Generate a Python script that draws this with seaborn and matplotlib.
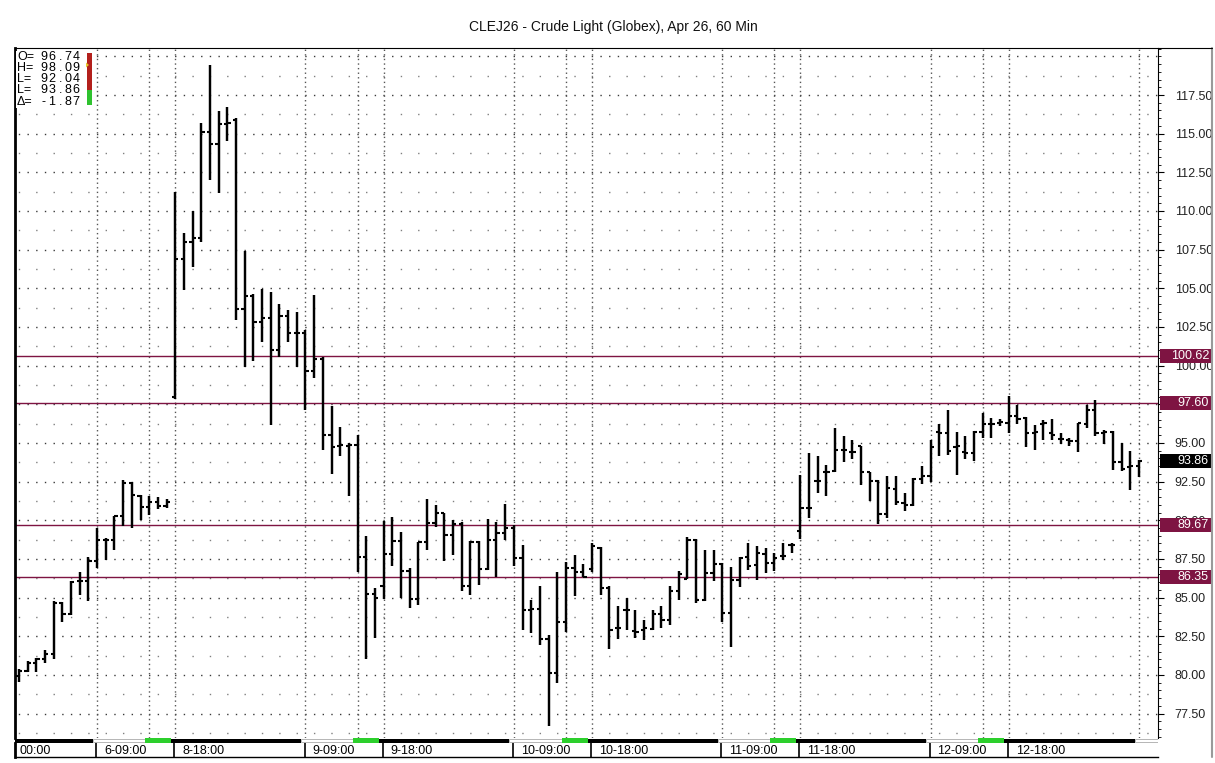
import numpy as np
import pandas as pd
import matplotlib
matplotlib.use("Agg")
import matplotlib.pyplot as plt
import seaborn as sns
from matplotlib.transforms import blended_transform_factory
from matplotlib.patches import Rectangle
from matplotlib.lines import Line2D
from matplotlib.ticker import MultipleLocator, FuncFormatter

sns.set_theme(style="white")
plt.rcParams["font.family"] = ["Liberation Sans", "DejaVu Sans"]

# ---------------- data ----------------
title = "CLEJ26 - Crude Light (Globex), Apr 26, 60 Min"

opens = [79.95, 80.24, 80.77, 81.03, 81.36, 84.65, 83.94, 86.05, 86.05, 87.35,
         88.70, 88.74, 90.25, 92.41, 91.54, 90.83, 91.15, 90.95, 97.94, 106.90,
         108.02, 108.28, 115.09, 114.31, 115.60, 115.90, 103.67, 104.53, 102.85, 103.07,
         101.02, 103.24, 102.14, 102.14, 99.67, 100.44, 95.53, 94.83, 94.83, 94.88,
         87.60, 85.23, 85.77, 87.84, 88.64, 86.74, 84.91, 88.57, 89.82, 90.47,
         89.07, 89.76, 85.77, 88.57, 86.85, 88.74, 89.17, 89.50, 87.56, 84.22,
         84.26, 82.35, 80.13, 83.40, 86.91, 86.63, 86.85, 88.20, 85.62, 83.04,
         84.22, 82.82, 82.88, 82.97, 83.96, 83.53, 85.40, 86.23, 88.74, 84.87,
         86.59, 87.17, 84.00, 86.16, 87.60, 87.08, 87.84, 87.24, 87.69, 88.38,
         89.28, 90.79, 92.51, 93.10, 93.16, 94.56, 94.39, 94.78, 93.10, 92.56,
         90.40, 92.02, 91.11, 91.01, 92.66, 92.88, 95.74, 95.64, 94.73, 94.39,
         94.34, 95.74, 96.22, 96.28, 96.28, 96.76, 96.60, 95.64, 96.22, 95.64,
         95.25, 95.16, 95.10, 96.24, 97.14, 95.64, 95.68, 93.74, 93.44, 93.48]
highs = [80.39, 80.88, 81.10, 81.64, 84.80, 84.70, 86.05, 86.63, 87.60, 89.50,
         88.85, 90.30, 92.58, 92.45, 91.65, 91.55, 91.50, 91.35, 111.25, 108.56,
         110.00, 115.67, 119.44, 116.47, 116.75, 116.00, 107.44, 104.60, 104.94, 104.75,
         103.97, 103.61, 103.46, 102.30, 104.58, 100.55, 97.36, 96.00, 95.00, 95.53,
         88.96, 85.62, 89.97, 90.21, 89.24, 86.91, 88.59, 91.39, 91.00, 90.50,
         89.99, 89.89, 88.64, 88.65, 90.08, 89.89, 91.05, 89.70, 88.42, 84.87,
         85.73, 82.60, 86.63, 87.28, 87.77, 87.19, 88.53, 88.25, 85.73, 84.48,
         84.97, 84.22, 83.57, 84.22, 84.48, 85.73, 86.70, 88.92, 88.80, 88.05,
         88.05, 87.25, 86.96, 87.60, 88.53, 88.31, 88.20, 87.88, 88.53, 88.53,
         92.94, 94.34, 94.13, 93.59, 95.96, 95.42, 95.20, 94.82, 93.15, 92.60,
         92.84, 92.88, 91.76, 92.73, 93.53, 95.16, 96.24, 97.14, 95.74, 95.42,
         95.80, 96.93, 96.60, 96.54, 98.05, 97.45, 96.65, 96.17, 96.46, 96.54,
         95.64, 95.31, 96.32, 97.47, 97.79, 95.85, 95.80, 94.99, 94.45, 93.90]
lows = [79.52, 80.17, 80.17, 80.78, 81.03, 83.40, 83.90, 85.19, 84.76, 86.91,
        87.41, 88.10, 89.61, 89.50, 90.04, 90.35, 90.70, 90.80, 97.85, 104.90,
        106.36, 108.02, 112.01, 111.15, 114.55, 102.96, 99.94, 100.31, 101.52, 96.17,
        100.59, 101.50, 99.90, 97.14, 99.23, 94.56, 92.99, 94.13, 91.55, 86.63,
        81.05, 82.39, 84.91, 87.02, 84.98, 84.33, 84.54, 88.06, 89.54, 87.34,
        87.77, 85.40, 85.17, 85.84, 86.80, 86.33, 88.70, 87.02, 82.93, 82.71,
        81.96, 76.68, 79.48, 82.76, 85.08, 86.33, 86.63, 85.19, 81.68, 82.35,
        82.88, 82.39, 82.24, 82.88, 83.04, 83.25, 84.87, 86.20, 84.65, 84.80,
        86.09, 83.40, 81.81, 85.66, 86.80, 86.16, 86.59, 86.70, 87.45, 87.88,
        88.80, 90.14, 91.76, 91.59, 93.10, 93.76, 93.96, 92.30, 91.22, 89.78,
        90.14, 91.01, 90.57, 90.94, 92.34, 92.45, 94.13, 94.24, 92.90, 93.96,
        93.85, 95.31, 95.31, 96.11, 95.64, 96.25, 94.73, 94.56, 95.16, 95.16,
        94.95, 94.78, 94.41, 95.96, 95.42, 94.93, 93.27, 93.16, 91.97, 92.79]
closes = [80.25, 80.77, 81.00, 81.36, 84.65, 83.94, 86.01, 86.05, 87.35, 88.70,
          88.74, 90.25, 92.41, 91.61, 90.83, 91.15, 90.95, 91.15, 106.90, 108.02,
          108.28, 115.09, 114.31, 115.60, 115.67, 103.67, 104.53, 102.85, 103.07, 101.02,
          103.24, 102.14, 102.14, 99.67, 100.44, 95.53, 94.77, 94.88, 94.88, 87.60,
          85.23, 84.97, 87.84, 88.64, 86.74, 84.91, 88.57, 89.82, 90.47, 89.07,
          89.76, 85.77, 88.57, 86.85, 88.74, 89.17, 89.50, 87.56, 84.22, 84.26,
          82.35, 80.13, 83.40, 86.91, 86.65, 86.33, 88.31, 85.62, 82.93, 83.04,
          84.18, 82.76, 83.04, 83.96, 83.53, 85.40, 86.55, 88.74, 84.87, 86.59,
          87.17, 84.00, 86.16, 87.56, 87.02, 87.88, 87.24, 87.56, 87.69, 88.38,
          90.79, 90.79, 92.51, 93.10, 94.52, 94.52, 94.39, 93.10, 92.56, 90.40,
          92.08, 91.16, 91.01, 92.69, 92.88, 94.73, 95.64, 94.50, 94.82, 94.34,
          95.74, 96.22, 96.22, 96.33, 96.76, 96.55, 95.64, 95.68, 96.28, 95.53,
          95.25, 95.10, 96.28, 97.14, 95.64, 95.68, 93.74, 93.31, 93.53, 93.86]

levels = [100.62, 97.60, 89.67, 86.35]
last_price = 93.86

session_open, session_high, session_low, session_last, session_delta = 96.74, 98.09, 92.04, 93.86, -1.87

time_labels = ["00:00", "6-09:00", "8-18:00", "9-09:00", "9-18:00", "10-09:00",
               "10-18:00", "11-09:00", "11-18:00", "12-09:00", "12-18:00"]
time_label_bars = [0, 9, 18, 33, 42, 57, 66, 81, 90, 105, 114]
vgrid_bars = [9, 15, 18, 33, 39, 42, 57, 63, 66, 81, 87, 90, 105, 111, 114, 129]
session_bounds = [-0.5, 8.5, 14.5, 17.5, 32.5, 38.5, 41.5, 56.5, 62.5, 65.5,
                  80.5, 86.5, 89.5, 104.5, 110.5, 113.5, 128.5, 131.5]
session_kinds = ["night", "day", "close", "night", "day", "close", "night", "day", "close",
                 "night", "day", "close", "night", "day", "close", "night", "day"]

# ---------------- layout ----------------
W, H = 1215, 763
fig = plt.figure(figsize=(W / 100, H / 100), dpi=100)
fig.patch.set_facecolor("white")

PL, PR, PT, PB = 15, 1158, 48, 738
XMIN, XMAX = -0.46, 131.2
YMIN, YMAX = 75.92, 120.54
ax = fig.add_axes([PL / W, 1 - PB / H, (PR - PL) / W, (PB - PT) / H])
ax.set_facecolor("white")
ax.set_xlim(XMIN, XMAX)
ax.set_ylim(YMIN, YMAX)

# grid dots
for yv in np.arange(77.5, 120.1, 2.5):
    ax.axhline(yv, color="#3a3a3a", lw=1.0, ls=(3.875, (1, 5.25)), zorder=0)
for yv in np.arange(76.25, 120.1, 2.5):
    ax.axhline(yv, color="#808080", lw=1.0, ls=(10.125, (1, 11.5)), zorder=0)
for b in vgrid_bars:
    ax.axvline(b, color="#555555", lw=1.0, ls=(0, (1, 2.3)), zorder=0)

maroon = "#7e1442"
for lv in levels:
    ax.axhline(lv, color=maroon, lw=1.0, zorder=1)

# OHLC via seaborn
n = len(opens)
idx = np.arange(n)
hl = pd.DataFrame({"seg": np.repeat(idx, 2),
                   "x": np.repeat(idx, 2).astype(float),
                   "price": np.column_stack([lows, highs]).ravel()})
tk = 0.37
ot = pd.DataFrame({"seg": np.repeat(idx, 2) + n,
                   "x": np.column_stack([idx - tk, idx]).ravel(),
                   "price": np.repeat(opens, 2)})
ct = pd.DataFrame({"seg": np.repeat(idx, 2) + 2 * n,
                   "x": np.column_stack([idx, idx + tk]).ravel(),
                   "price": np.repeat(closes, 2)})
sns.lineplot(data=hl, x="x", y="price", units="seg", estimator=None, sort=False,
             color="black", lw=1.75, ax=ax, legend=False, zorder=3,
             solid_capstyle="butt")
sns.lineplot(data=pd.concat([ot, ct]), x="x", y="price", units="seg", estimator=None,
             sort=False, color="black", lw=1.5, ax=ax, legend=False, zorder=3,
             solid_capstyle="butt")
ax.set_xlabel("")
ax.set_ylabel("")
ax.set_xticks([])

# right axis (labels fully covered by a level box are left blank)
def tick_fmt(v, pos):
    for lv in levels:
        if abs(v - lv) < 0.2:
            return ""
    return f"{v:.2f}"
ax.yaxis.tick_right()
ax.set_yticks(np.arange(77.5, 118, 2.5))
ax.yaxis.set_major_formatter(FuncFormatter(tick_fmt))
ax.yaxis.set_minor_locator(MultipleLocator(0.5))
ax.tick_params(axis="y", which="major", direction="out", length=4, width=0.8,
               colors="black", labelsize=9, pad=8, right=True, left=False)
ax.tick_params(axis="y", which="minor", direction="out", length=2.5, width=0.6,
               colors="black", right=True, left=False)
for lab in ax.get_yticklabels():
    lab.set_color("#222222")

for s in ["top", "right", "left", "bottom"]:
    ax.spines[s].set_visible(True)
    ax.spines[s].set_color("black")
ax.spines["left"].set_linewidth(2.0)
ax.spines["top"].set_linewidth(0.8)
ax.spines["right"].set_linewidth(0.8)
ax.spines["bottom"].set_visible(False)

# price label boxes
bt = blended_transform_factory(ax.transAxes, ax.transData)
box_x0 = (1160 - PL) / (PR - PL)
box_w = 52 / (PR - PL)
pxu = (PB - PT) / (YMAX - YMIN)
box_h = 14 / pxu
def price_box(val, fc):
    ax.add_patch(Rectangle((box_x0, val - box_h / 2), box_w, box_h, transform=bt,
                           facecolor=fc, edgecolor="none", clip_on=False, zorder=5))
    ax.text((1209 - PL) / (PR - PL), val, f"{val:.2f}", transform=bt, ha="right",
            va="center", color="white", fontsize=9, zorder=6, clip_on=False)
for lv in levels:
    price_box(lv, maroon)
price_box(last_price, "black")

# title
fig.text(613 / W, 1 - 27 / H, title, ha="center", va="center", fontsize=10, color="#111111")

# info box top-left
fig.patches.append(Rectangle((16 / W, 1 - 108 / H), 78 / W, 57 / H, transform=fig.transFigure,
                             facecolor="white", edgecolor="none", zorder=2))
info = [("O=", session_open), ("H=", session_high), ("L=", session_low),
        ("L=", session_last), ("\u0394=", session_delta)]
pitch = 8.0
for k, (lab, v) in enumerate(info):
    yy = 1 - (56.5 + k * 11.3) / H
    fig.text(17 / W, yy, lab, ha="left", va="center", fontsize=9, color="black", zorder=3)
    s = f"{v:.2f}"
    for j, ch in enumerate(reversed(s)):
        cx = 80 - pitch * j - pitch / 2
        if ch == ".":
            cx += 0.5
        fig.text(cx / W, yy, ch, ha="center", va="center", fontsize=9, color="black", zorder=3)
# range indicator
it, ib = 53.5, 105.0
def ipos(v):
    return it + (session_high - v) / (session_high - session_low) * (ib - it)
yc = ipos(session_last)
fig.patches.append(Rectangle((87 / W, 1 - yc / H), 5 / W, (yc - it) / H, transform=fig.transFigure,
                             facecolor="#b3201c", edgecolor="none", zorder=3))
fig.patches.append(Rectangle((87 / W, 1 - ib / H), 5 / W, (ib - yc) / H, transform=fig.transFigure,
                             facecolor="#2fc22f", edgecolor="none", zorder=3))
yo = ipos(session_open)
fig.patches.append(plt.Polygon([[86 / W, 1 - (yo - 2.5) / H], [86 / W, 1 - (yo + 2.5) / H],
                                [89 / W, 1 - yo / H]], closed=True, transform=fig.transFigure,
                               facecolor="#e8c830", edgecolor="none", zorder=4))

# session strip
axs = fig.add_axes([PL / W, 1 - 743 / H, (PR - PL) / W, 5 / H])
axs.set_xlim(XMIN, XMAX)
axs.set_ylim(0, 1)
axs.axis("off")
for k, kind in enumerate(session_kinds):
    a, b = session_bounds[k], session_bounds[k + 1]
    if kind == "night":
        axs.axvspan(a, b, ymin=0.1, ymax=0.9, color="black", lw=0)
    elif kind == "close":
        axs.axvspan(a, b, ymin=0.0, ymax=1.0, color="#2ccf2c", lw=0)
    else:
        axs.axvspan(a, b, ymin=0.15, ymax=0.85, facecolor="white", edgecolor="#aaaaaa", lw=0.6)

# time label row
axl = fig.add_axes([PL / W, 1 - 757 / H, (PR - PL) / W, 14 / H])
axl.set_xlim(XMIN, XMAX)
axl.set_ylim(0, 1)
axl.set_xticks([])
axl.set_yticks([])
axl.set_facecolor("white")
for s in ["top", "right"]:
    axl.spines[s].set_visible(False)
axl.spines["left"].set_linewidth(2.0)
axl.spines["bottom"].set_linewidth(1.0)
axl.spines["left"].set_color("black")
axl.spines["bottom"].set_color("black")
for lab, b in zip(time_labels, time_label_bars):
    if b > 0:
        axl.vlines(b - 0.1, 0, 1, color="black", lw=1.2)
        axl.text(b + 0.8, 0.45, lab, ha="left", va="center", fontsize=9, color="black")
    else:
        axl.text(b + 0.1, 0.45, lab, ha="left", va="center", fontsize=9, color="black")

# right panel border line
fig.add_artist(Line2D([1212 / W, 1212 / W], [1 - 757 / H, 1 - 48 / H], color="#9a9a9a", lw=1.5,
                      transform=fig.transFigure))
fig.add_artist(Line2D([PR / W, 1212 / W], [1 - 48 / H, 1 - 48 / H], color="black", lw=0.8,
                      transform=fig.transFigure))

fig.savefig("out.png", dpi=100, facecolor="white")
